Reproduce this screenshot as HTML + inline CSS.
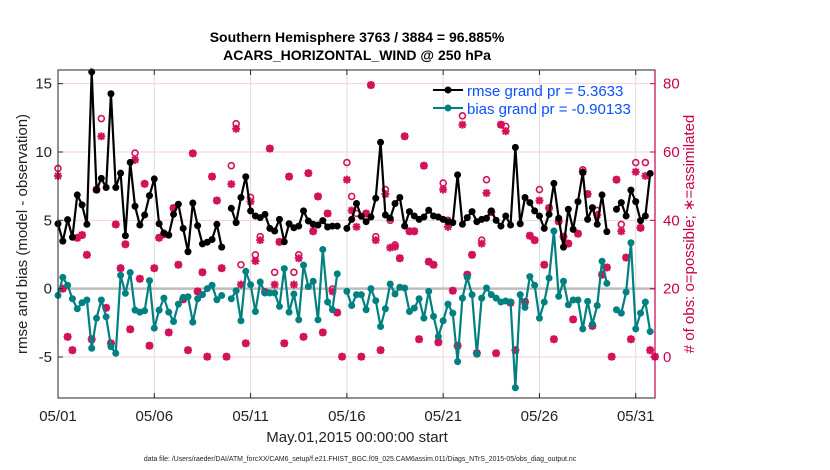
<!DOCTYPE html>
<html><head><meta charset="utf-8"><style>
body{margin:0;background:#fff;}
svg{display:block;font-family:"Liberation Sans",Arial,sans-serif;}
</style></head><body>
<svg id="chart" width="830" height="470" viewBox="0 0 830 470">
<rect width="830" height="470" fill="#fff"/>
<g id="grid"></g>
<g id="marks"></g>
<g id="axes"></g>
<text x="357" y="42" text-anchor="middle" font-size="14" font-weight="bold">Southern Hemisphere 3763 / 3884 = 96.885%</text>
<text x="357" y="60" text-anchor="middle" font-size="14" font-weight="bold">ACARS_HORIZONTAL_WIND @ 250 hPa</text>
<text x="357" y="442" text-anchor="middle" font-size="15" fill="#222">May.01,2015 00:00:00 start</text>
<text x="360" y="461" text-anchor="middle" font-size="6.9" fill="#222">data file: /Users/raeder/DAI/ATM_forcXX/CAM6_setup/f.e21.FHIST_BGC.f09_025.CAM6assim.011/Diags_NTrS_2015-05/obs_diag_output.nc</text>
<text transform="translate(27,234) rotate(-90)" text-anchor="middle" font-size="15" fill="#222">rmse and bias (model - observation)</text>
<text transform="translate(694,234) rotate(-90)" text-anchor="middle" font-size="15" fill="#c8004f"># of obs: o=possible; ∗=assimilated</text>
<g>
<line x1="433" y1="90" x2="463" y2="90" stroke="#000" stroke-width="2"/>
<circle cx="448" cy="90" r="3.5" fill="#000"/>
<text x="467" y="96" font-size="15" fill="#0a50ff">rmse grand pr = 5.3633</text>
<line x1="433" y1="108" x2="463" y2="108" stroke="#008080" stroke-width="2"/>
<circle cx="448" cy="108" r="3.5" fill="#008080"/>
<text x="467" y="114" font-size="15" fill="#0a50ff">bias grand pr = -0.90133</text>
</g>
</svg>
<script>
const xTickDays = [0, 5, 10, 15, 20, 25, 30];
const xTickLabels = ["05/01","05/06","05/11","05/16","05/21","05/26","05/31"];
const leftTicks = [-5, 0, 5, 10, 15];
const rightTicks = [0, 20, 40, 60, 80];
const rmse = [4.75,3.48,5.05,3.76,6.86,6.13,4.71,15.86,7.21,8.07,7.4,14.26,7.4,8.45,3.87,9.24,6.03,4.66,5.39,6.81,8.03,4.75,4.07,3.92,5.44,6.18,4.41,2.70,6.27,4.61,3.28,
3.4,3.6,4.71,3.04,null,5.88,4.83,6.67,8.19,5.69,5.32,5.20,5.44,4.41,4.22,5.07,3.43,4.75,4.46,4.58,5.69,4.95,4.71,4.66,4.98,4.51,4.58,4.58,null,4.41,5.07,6.23,
5.3,4.9,5.24,6.62,10.71,5.39,5.15,6.23,6.67,4.58,5.64,5.32,5.07,5.24,5.74,5.32,5.24,5.07,4.9,4.83,8.33,4.71,5.2,5.64,4.9,5.07,5.15,5.69,5.0,4.58,
5.32,4.66,10.34,4.75,6.67,6.30,5.69,5.32,4.41,5.44,7.70,5.15,3.04,5.81,4.34,6.37,8.50,5.07,5.93,4.71,6.86,4.17,null,5.81,6.30,5.32,7.21,6.37,4.98,5.32,8.43,null];
const bias = [-0.49,0.83,0.25,-0.74,-1.47,-1.03,-0.83,-4.36,-2.16,-0.83,-2.06,-4.24,-4.73,0.98,-0.34,1.18,-1.57,-1.72,-1.62,0.59,-2.89,-1.57,-0.69,-1.72,-2.40,-1.13,-0.64,-0.59,-2.45,-0.74,-0.44,
0.0,0.25,-0.81,-0.5,null,-0.74,-0.15,-2.35,1.27,0.29,-1.67,0.49,-0.32,-0.32,-0.32,-1.30,1.47,-1.72,-0.39,-2.28,1.72,0.15,0.54,-2.28,2.87,-0.98,-1.54,1.08,null,-0.2,-1.23,-0.44,
-0.44,-1.54,0.0,-0.88,-2.77,-1.47,0.34,-0.39,0.1,0.05,-1.67,-1.42,-0.74,-2.16,-0.2,-2.03,-3.5,-2.35,-1.13,-1.79,-5.34,-0.69,0.83,-0.44,-4.8,-0.69,0.05,-0.44,-0.69,-0.98,-0.9,
-0.98,-7.25,-0.44,-1.37,0.88,0.25,-2.16,-0.98,0.78,4.22,-0.56,0.54,-1.18,-0.83,-0.83,-2.94,-0.93,-2.6,-1.23,2.01,0.39,null,-1.54,-1.79,-0.25,3.36,-2.94,-1.79,-0.98,-3.14,null];
const obsAssim = [53.0,20.0,5.9,2.0,34.9,35.7,29.9,5.2,49.0,64.6,14.4,4.0,38.8,26.0,33.0,8.1,57.7,22.9,50.7,3.3,26.0,34.9,35.9,7.2,43.6,27.0,16.9,2.0,59.6,19.2,24.8,0.1,52.8,
45.8,26.0,0.1,50.6,66.8,21.2,4.0,45.5,28.1,34.2,19.0,61.0,21.2,33.7,4.0,52.8,21.2,28.9,5.9,53.8,36.8,47.0,7.2,42.0,19.2,13.0,0.1,51.9,42.9,38.1,
0.1,42.0,79.6,34.2,2.0,47.7,32.0,32.3,28.9,64.6,36.8,36.8,5.2,56.0,27.9,27.0,4.3,49.0,38.1,19.4,3.3,68.0,24.1,29.9,1.1,33.2,48.0,42.4,1.1,68.0,66.1,
15.9,2.0,null,16.1,35.5,34.2,45.8,27.0,43.6,5.2,39.7,35.2,33.2,11.0,36.1,54.2,47.7,9.1,41.6,24.1,26.2,0.1,51.9,36.8,29.1,5.2,54.2,37.8,53.0,2.0,0.1];
const obsPossible = [55.2,20.0,5.9,2.0,34.9,35.7,29.9,5.2,49.0,69.8,14.4,4.0,38.8,26.0,33.0,8.1,59.7,22.9,50.7,3.3,26.0,34.9,35.9,7.2,43.6,27.0,16.9,2.0,59.6,19.2,24.8,0.1,52.8,
45.8,26.0,0.1,56.0,68.3,27.0,4.0,46.7,29.9,35.2,19.0,61.0,24.8,33.7,4.0,52.8,24.8,29.9,5.9,53.8,36.8,47.0,7.2,42.0,19.9,13.0,0.1,56.9,47.0,42.0,
0.1,42.0,79.6,35.2,2.0,49.0,40.0,32.8,28.9,64.6,36.8,36.8,5.2,56.0,27.9,27.0,4.3,50.9,40.0,19.4,3.3,70.6,24.1,29.9,1.1,34.2,51.9,42.4,1.1,68.0,67.5,
15.9,2.0,null,16.1,35.5,34.2,49.0,27.0,43.6,5.2,39.7,35.2,33.2,11.0,36.1,54.8,47.7,9.1,42.9,24.1,26.2,0.1,51.9,38.8,29.1,5.2,56.9,37.8,56.9,2.0,0.1];

const NS = "http://www.w3.org/2000/svg";
const PL = 58, PR = 655, PT = 70, PB = 398;
const X_MIN = 0, X_MAX = 31, YL_MIN = -8, YL_MAX = 16, YR_MIN = -12, YR_MAX = 84;
const STEP = 0.25;
function xScale(d){ return PL + (d - X_MIN) / (X_MAX - X_MIN) * (PR - PL); }
function yLeft(v){ return PB - (v - YL_MIN) / (YL_MAX - YL_MIN) * (PB - PT); }
function yRight(v){ return PB - (v - YR_MIN) / (YR_MAX - YR_MIN) * (PB - PT); }
function mk(tag, attrs, parent){
  const el = document.createElementNS(NS, tag);
  for (const k in attrs) el.setAttribute(k, attrs[k]);
  parent.appendChild(el);
  return el;
}
const grid = document.getElementById('grid');
const marks = document.getElementById('marks');
const axes = document.getElementById('axes');

xTickDays.forEach((d) => {
  const l = mk('line', {x1: xScale(d), x2: xScale(d), y1: PT, y2: PB, stroke: '#dcdcdc', 'stroke-width': 1}, grid);
  
  
});
rightTicks.forEach((v) => {
  const l = mk('line', {x1: PL, x2: PR, y1: yRight(v), y2: yRight(v), stroke: '#f6cfdc', 'stroke-width': 1}, grid);
  
  
});
const zl = mk('line', {x1: PL, x2: PR, y1: yLeft(0), y2: yLeft(0), stroke: '#bdbdbd', 'stroke-width': 2.5}, grid);



function drawObs(arr, kind){
  arr.forEach((v, i) => {
    if (v === null) return;
    const cx = xScale(i * STEP), cy = yRight(v);
    if (kind === 'possible') {
      const c = mk('circle', {cx: cx, cy: cy, r: 3, fill: 'none', stroke: '#d2125a', 'stroke-width': 1.6}, marks);
      
      
    } else {
      const g = mk('g', {stroke: '#d2125a', 'stroke-width': 2}, marks);
      
      
      const s = 4;
      mk('path', {d: `M${cx-3},${cy}L${cx},${cy-3}L${cx+3},${cy}L${cx},${cy+3}Z`, fill: '#d2125a', 'stroke-width': 1}, g);
      mk('line', {x1: cx - s, x2: cx + s, y1: cy, y2: cy}, g);
      mk('line', {x1: cx, x2: cx, y1: cy - s, y2: cy + s}, g);
      mk('line', {x1: cx - 3, x2: cx + 3, y1: cy - 3, y2: cy + 3}, g);
      mk('line', {x1: cx - 3, x2: cx + 3, y1: cy + 3, y2: cy - 3}, g);
    }
  });
}
drawObs(obsPossible, 'possible');
drawObs(obsAssim, 'assim');

function drawSeries(arr, color, name){
  let d = '', pen = false;
  arr.forEach((v, i) => {
    if (v === null) { pen = false; return; }
    d += (pen ? 'L' : 'M') + xScale(i * STEP).toFixed(2) + ',' + yLeft(v).toFixed(2);
    pen = true;
  });
  const p = mk('path', {d: d, fill: 'none', stroke: color, 'stroke-width': 2.2, 'stroke-linejoin': 'round'}, marks);
  
  
  arr.forEach((v, i) => {
    if (v === null) return;
    const c = mk('circle', {cx: xScale(i * STEP), cy: yLeft(v), r: 3.5, fill: color}, marks);
    
    
  });
}
drawSeries(bias, '#008080', 'bias');
drawSeries(rmse, '#000000', 'rmse');

const fr = mk('rect', {x: PL, y: PT, width: PR - PL, height: PB - PT, fill: 'none', stroke: '#262626', 'stroke-width': 1}, axes);


const ra = mk('line', {x1: PR, x2: PR, y1: PT, y2: PB, stroke: '#c8004f', 'stroke-width': 1.2}, axes);



xTickDays.forEach((d, i) => {
  const x = xScale(d);
  mk('line', {x1: x, x2: x, y1: PB, y2: PB - 5, stroke: '#262626'}, axes);
  mk('line', {x1: x, x2: x, y1: PT, y2: PT + 5, stroke: '#262626'}, axes);
  const t = mk('text', {x: x, y: 421, 'text-anchor': 'middle', 'font-size': 15, fill: '#222'}, axes);
  t.textContent = xTickLabels[i];
  
  
});
leftTicks.forEach((v) => {
  const y = yLeft(v);
  mk('line', {x1: PL, x2: PL + 5, y1: y, y2: y, stroke: '#262626'}, axes);
  const t = mk('text', {x: PL - 6, y: y + 5, 'text-anchor': 'end', 'font-size': 15, fill: '#222'}, axes);
  t.textContent = v;
  
  
});
rightTicks.forEach((v) => {
  const y = yRight(v);
  mk('line', {x1: PR, x2: PR - 5, y1: y, y2: y, stroke: '#c8004f'}, axes);
  const t = mk('text', {x: PR + 8, y: y + 5, 'text-anchor': 'start', 'font-size': 15, fill: '#c8004f'}, axes);
  t.textContent = v;
  
  
});
</script>
</body></html>
